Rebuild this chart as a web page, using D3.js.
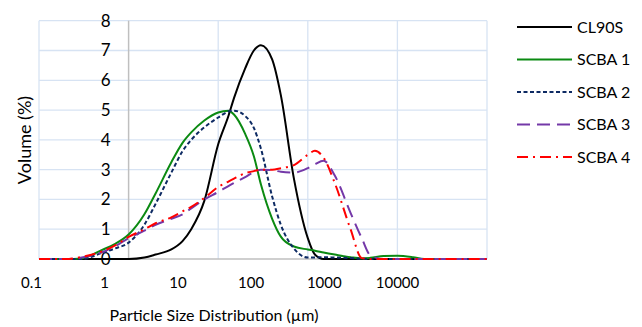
<!DOCTYPE html>
<html>
<head>
<meta charset="utf-8">
<script src="https://cdn.jsdelivr.net/npm/d3@7"></script>
<style>
  body { margin: 0; background: #fff; }
  svg { display: block; font-family: Lato, "Open Sans", sans-serif; }
</style>
</head>
<body>
<div id="graph"></div>
<script>
// Particle sizes (µm) shared by every series
const sizes = [0.1, 0.2, 0.3, 0.5, 0.7, 1, 1.5, 2, 3, 4, 5, 7, 10, 13, 15, 20, 25, 30, 40, 50, 70, 100, 120, 150, 200, 300, 400, 500, 700, 1000, 1500, 2000, 5000, 10000];

// Volume (%) for each sample
const cl90s = [0, 0, 0, 0, 0, 0, 0.05, 0.15, 0.32, 0.6, 1.0, 1.95, 3.85, 4.8, 5.4, 6.4, 7.0, 7.18, 6.7, 5.5, 2.7, 0.7, 0.15, 0, 0, 0, 0, 0, 0, 0, 0, 0, 0, 0];
const scba1 = [0, 0, 0.02, 0.3, 0.5, 0.82, 1.5, 2.2, 3.25, 3.9, 4.25, 4.65, 4.92, 4.98, 4.85, 4.2, 3.45, 2.5, 1.35, 0.75, 0.42, 0.32, 0.28, 0.22, 0.15, 0.06, 0.02, 0.04, 0.1, 0.11, 0.06, 0, 0, 0];
const scba2 = [0, 0, 0, 0.2, 0.35, 0.55, 1.15, 1.85, 2.9, 3.62, 4.0, 4.42, 4.75, 4.95, 4.98, 4.8, 4.4, 3.7, 2.1, 1.15, 0.35, 0.05, 0.05, 0.06, 0.05, 0.03, 0.01, 0, 0, 0, 0, 0, 0, 0];
const scba3 = [0, 0, 0.05, 0.22, 0.42, 0.7, 0.95, 1.15, 1.35, 1.5, 1.7, 2.0, 2.25, 2.45, 2.55, 2.75, 2.92, 3.0, 2.98, 2.93, 2.9, 3.05, 3.18, 3.3, 2.8, 1.55, 0.7, 0.12, 0, 0, 0, 0, 0, 0];
const scba4 = [0, 0, 0.07, 0.25, 0.45, 0.74, 1.0, 1.2, 1.4, 1.6, 1.75, 2.05, 2.42, 2.6, 2.7, 2.88, 2.95, 3.0, 3.0, 3.05, 3.15, 3.5, 3.63, 3.4, 2.55, 1.0, 0.03, 0, 0, 0, 0, 0, 0, 0];

const seriesNames = ["CL90S", "SCBA 1", "SCBA 2", "SCBA 3", "SCBA 4"];
const xTicks = [0.1, 1, 10, 100, 1000, 10000];
const yTicks = [0, 1, 2, 3, 4, 5, 6, 7, 8];

const styles = [
  { color: "#000000", dash: null },
  { color: "#0b8a12", dash: null },
  { color: "#0d2a63", dash: "4,2.5" },
  { color: "#7438a8", dash: "13,7" },
  { color: "#ff0000", dash: "11,5,2,5" }
];

const series = [cl90s, scba1, scba2, scba3, scba4].map((vals, i) => ({
  name: seriesNames[i],
  points: sizes.map((s, j) => [s, vals[j]]),
  style: styles[i]
}));

// Chart dimensions
const width = 642;
const height = 327;
const plotLeft = 39;
const plotRight = 487;
const plotTop = 20.7;
const plotBottom = 259;

const x = d3.scaleLog().domain([0.1, 10000]).range([plotLeft, plotRight]);
const y = d3.scaleLinear().domain([0, 8]).range([plotBottom, plotTop]);
// tick labels in the source sit on a compressed spacing
const xLabel = d3.scaleLog().domain([0.1, 10000]).range([31, 397]);

const svg = d3.select("#graph").append("svg")
  .attr("width", width)
  .attr("height", height)
  .attr("viewBox", [0, 0, width, height]);

// Gridlines
svg.append("g")
  .attr("stroke", "#d7e3f3")
  .attr("stroke-width", 1.3)
  .call(g => g.selectAll("line.h")
    .data(yTicks.filter(d => d > 0))
    .join("line")
    .attr("x1", plotLeft).attr("x2", plotRight)
    .attr("y1", d => y(d)).attr("y2", d => y(d)))
  .call(g => g.selectAll("line.v")
    .data(xTicks.filter(d => d !== 1))
    .join("line")
    .attr("class", "v")
    .attr("x1", d => x(d)).attr("x2", d => x(d))
    .attr("y1", plotTop).attr("y2", plotBottom));

// Axes lines (vertical axis crosses at 1)
svg.append("line")
  .attr("x1", x(1)).attr("x2", x(1))
  .attr("y1", plotTop).attr("y2", plotBottom)
  .attr("stroke", "#bfbfbf").attr("stroke-width", 1.5);

svg.append("line")
  .attr("x1", plotLeft).attr("x2", plotRight)
  .attr("y1", y(0)).attr("y2", y(0))
  .attr("stroke", "#bfbfbf").attr("stroke-width", 1.5);

// Y tick labels
svg.append("g")
  .attr("transform", `translate(${x(1) - 18},0)`)
  .call(d3.axisLeft(y).tickValues(yTicks).tickSize(0).tickPadding(0))
  .call(g => g.select(".domain").remove())
  .call(g => g.selectAll("text")
    .attr("font-family", "Lato, sans-serif")
    .attr("font-size", 17)
    .attr("fill", "#000"));

// X tick labels
svg.append("g")
  .attr("transform", `translate(0,${plotBottom + 18})`)
  .call(d3.axisBottom(xLabel).tickValues(xTicks).tickFormat(d3.format("~g")).tickSize(0).tickPadding(0))
  .call(g => g.select(".domain").remove())
  .call(g => g.selectAll("text")
    .attr("font-family", "Lato, sans-serif")
    .attr("font-size", 15)
    .attr("fill", "#000"));

// Axis titles
svg.append("text")
  .attr("x", 214)
  .attr("y", 321)
  .attr("text-anchor", "middle")
  .attr("font-size", 16)
  .attr("fill", "#000")
  .text("Particle Size Distribution (µm)");

svg.append("text")
  .attr("transform", `translate(31,140) rotate(-90)`)
  .attr("text-anchor", "middle")
  .attr("font-size", 18)
  .attr("fill", "#000")
  .text("Volume (%)");

// Series lines
const line = d3.line()
  .x(d => x(d[0]))
  .y(d => y(d[1]))
  .curve(d3.curveMonotoneX);

svg.append("g")
  .attr("fill", "none")
  .attr("stroke-width", 2)
  .selectAll("path")
  .data(series)
  .join("path")
  .attr("stroke", d => d.style.color)
  .attr("stroke-dasharray", d => d.style.dash)
  .attr("d", d => line(d.points));

// Legend
const legend = svg.append("g")
  .selectAll("g")
  .data(series)
  .join("g")
  .attr("transform", (d, i) => `translate(517,${27 + i * 32.5})`);

legend.append("line")
  .attr("x1", 0).attr("x2", 55)
  .attr("stroke", d => d.style.color)
  .attr("stroke-width", 2)
  .attr("stroke-dasharray", d => d.style.dash);

legend.append("text")
  .attr("x", 60)
  .attr("dy", "0.35em")
  .attr("font-size", 16)
  .attr("fill", "#000")
  .text(d => d.name);
</script>
</body>
</html>
